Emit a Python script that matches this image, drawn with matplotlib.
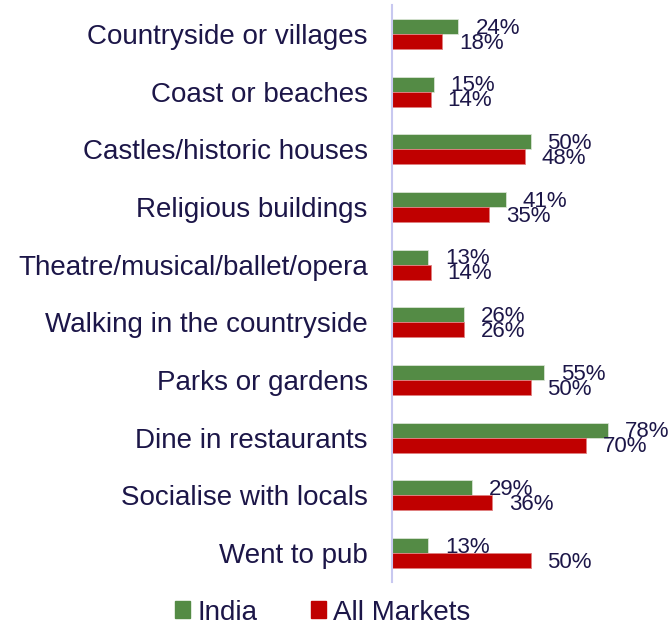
import numpy as np
import matplotlib.pyplot as plt
from matplotlib.patches import Patch

plt.rcParams['font.family'] = ['Liberation Sans', 'DejaVu Sans']

categories = ["Countryside or villages", "Coast or beaches", "Castles/historic houses",
              "Religious buildings", "Theatre/musical/ballet/opera",
              "Walking in the countryside", "Parks or gardens", "Dine in restaurants",
              "Socialise with locals", "Went to pub"]
india = [24, 15, 50, 41, 13, 26, 55, 78, 29, 13]
all_markets = [18, 14, 48, 35, 14, 26, 50, 70, 36, 50]

GREEN = "#548b45"
RED = "#c00000"
TEXT = "#1c1648"

fig = plt.figure(figsize=(6.69, 6.22), dpi=100)
ax = fig.add_axes([392 / 669, 1 - 582 / 622, 1 - 392 / 669, 577 / 622])

y = np.arange(len(categories))
h = 0.26
ax.barh(y - h / 2, india, height=h, color=GREEN, edgecolor="#d8e4d4", linewidth=0.6)
ax.barh(y + h / 2, all_markets, height=h, color=RED, edgecolor="#e08080", linewidth=0.6)

# value labels sit a fixed gap to the right of each bar
for i in range(len(categories)):
    ax.text(india[i] + 6.1, y[i] - h / 2 + 0.03, f"{india[i]}%", va="center", ha="left",
            fontsize=16, color=TEXT)
    ax.text(all_markets[i] + 6.1, y[i] + h / 2 + 0.03, f"{all_markets[i]}%", va="center",
            ha="left", fontsize=16, color=TEXT)

ax.set_xlim(0, 100)
ax.set_ylim(len(categories) - 0.5, -0.5)
ax.set_yticks(y)
ax.set_yticklabels(categories, fontsize=20, color=TEXT)
ax.tick_params(axis="y", length=0, pad=17.5)
ax.set_xticks([])
for s in ["top", "right", "bottom"]:
    ax.spines[s].set_visible(False)
ax.spines["left"].set_color("#c8c8f0")
ax.spines["left"].set_linewidth(1.5)

handles = [Patch(color=GREEN, label="India"), Patch(color=RED, label="All Markets")]
fig.legend(handles=handles, loc="center", bbox_to_anchor=(323 / 669, 1 - 612.5 / 622), ncol=2,
           frameon=False, fontsize=20, labelcolor=TEXT, handlelength=0.54, handleheight=0.54,
           columnspacing=1.95, handletextpad=0.25, borderpad=0, borderaxespad=0)

fig.savefig("out.png", dpi=100)
